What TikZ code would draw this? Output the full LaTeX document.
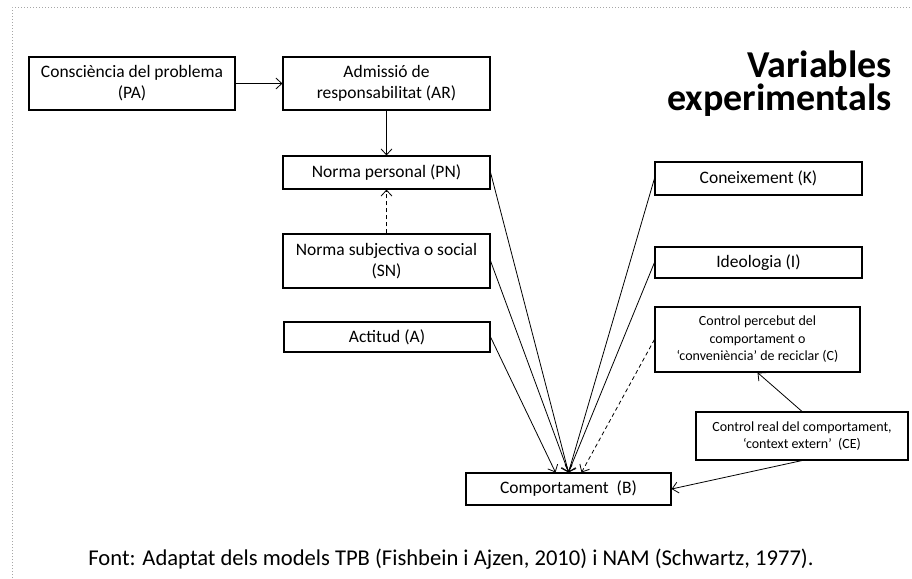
\documentclass[tikz,border=0pt]{standalone}
\usepackage{fontspec}
\setmainfont{Carlito}
\usetikzlibrary{arrows.meta}
\begin{document}
\begin{tikzpicture}[x=1pt,y=-1pt,
 box/.style={draw=black,line width=1.1pt,rectangle,inner sep=0pt,align=center,font=\fontsize{17.5}{21}\selectfont},
 sbox/.style={box,font=\fontsize{14}{17.5}\selectfont},
 arr/.style={line width=0.8pt,-{Straight Barb[length=6pt,width=11pt]}},
 darr/.style={arr,dash pattern=on 4pt off 3pt},
 ttl/.style={anchor=north east,inner sep=0pt,align=right,font=\fontsize{38}{33}\selectfont\bfseries}]
\useasboundingbox (0,0) rectangle (912,578);
\fill[white] (0,0) rectangle (912,578);
\draw[gray!70,dotted,line width=1pt] (12,578) -- (12,8) -- (912,8);
% boxes
\node[box,minimum width=206pt,minimum height=53pt] (PA) at (132,83.5) {Consciència del problema\\(PA)};
\node[box,minimum width=207pt,minimum height=53pt] (AR) at (386.5,83.5) {Admissió de\\responsabilitat (AR)};
\node[box,minimum width=207pt,minimum height=33pt] (PN) at (386.5,172.5) {Norma personal (PN)};
\node[box,minimum width=207pt,minimum height=54pt] (SN) at (386.5,261) {Norma subjectiva o social\\(SN)};
\node[box,minimum width=206pt,minimum height=30pt] (A) at (387,337) {Actitud (A)};
\node[box,minimum width=207pt,minimum height=33pt] (K) at (758.5,178.5) {Coneixement (K)};
\node[box,minimum width=207pt,minimum height=31pt] (I) at (758.5,262.5) {Ideologia (I)};
\node[sbox,minimum width=205pt,minimum height=65pt] (C) at (757.5,339.5) {Control percebut del\\comportament o\\‘conveniència’ de reciclar (C)};
\node[sbox,minimum width=212pt,minimum height=48pt] (CE) at (802,436) {Control real del comportament,\\‘context extern’~ (CE)};
\node[box,minimum width=205pt,minimum height=32pt] (B) at (568.5,489) {Comportament~ (B)};
% title and caption
\node[ttl] (T) at (892,50.5) {Variables\\experimentals};
\node[font=\fontsize{22.6}{27}\selectfont,inner sep=0pt,anchor=base] (cap) at (451,565) {Font: Adaptat dels models TPB (Fishbein i Ajzen, 2010) i NAM (Schwartz, 1977).};
% connectors
\draw[arr] (PA.east) -- (AR.west);
\draw[arr] (AR.south) -- (PN.north);
\draw[darr] (SN.north) -- (PN.south);
\draw[arr] (PN.east) -- (B.north);
\draw[arr] (SN.east) -- (B.north);
\draw[arr] (A.east) -- ([xshift=-13pt]B.north);
\draw[arr] (K.west) -- (B.north);
\draw[arr] (I.west) -- (B.north);
\draw[darr] (C.west) -- ([xshift=13pt]B.north);
\draw[arr] (CE.north) -- (C.south);
\draw[arr] (CE.south) -- (B.east);
\end{tikzpicture}
\end{document}
